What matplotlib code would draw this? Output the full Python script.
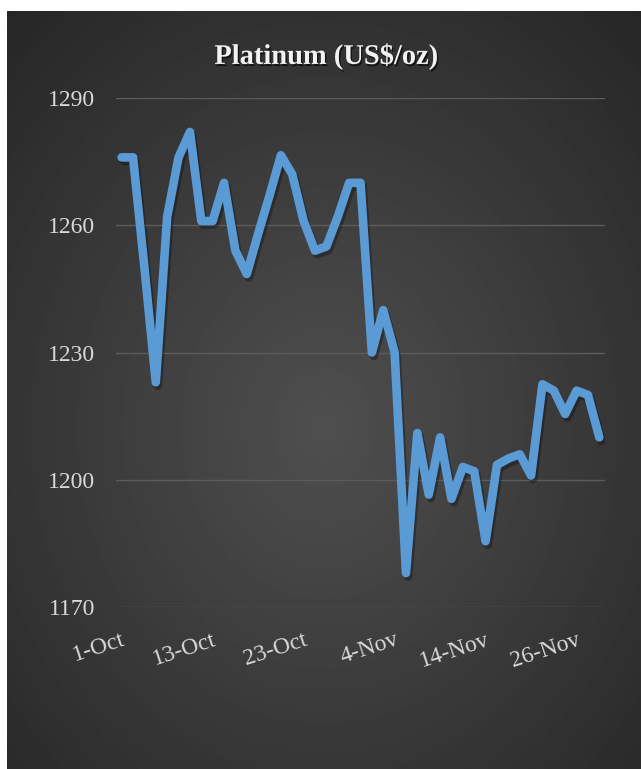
import numpy as np
import matplotlib
matplotlib.use('Agg')
import matplotlib.pyplot as plt
import matplotlib.patheffects as pe

# 数据：每个交易日的铂金价格
prices = [1276, 1276, 1250, 1223, 1262, 1276, 1282, 1261, 1261, 1270,
          1254, 1248.5, 1258, 1267, 1276.5, 1272, 1261, 1254, 1255, 1262,
          1270, 1270, 1230, 1240, 1230, 1178, 1211, 1196.5, 1210, 1195.5,
          1203, 1202, 1185.5, 1203.5, 1205, 1206, 1201, 1222.5, 1221, 1215.5,
          1221, 1220, 1210]
tick_labels = ['1-Oct', '13-Oct', '23-Oct', '4-Nov', '14-Nov', '26-Nov']
label_step = 8
y_ticks = [1170, 1200, 1230, 1260, 1290]
title = 'Platinum (US$/oz)'

W, H = 641, 769
plt.rcParams['font.family'] = ['Liberation Serif', 'DejaVu Serif']

fig = plt.figure(figsize=(W / 100, H / 100), dpi=100)
fig.patch.set_facecolor('white')

# 深色径向渐变背景
bg = fig.add_axes([7 / W, 0, 1 - 7 / W, 1 - 11 / H])
yy, xx = np.mgrid[0:1:400j, 0:1:400j]
r = np.sqrt(((xx - 0.5) / 0.75) ** 2 + ((yy - 0.55) / 0.75) ** 2)
shade = 0.31 - 0.16 * np.clip(r, 0, 1)
bg.imshow(shade, cmap='gray', vmin=0, vmax=1, aspect='auto',
          extent=[0, 1, 0, 1], interpolation='bilinear')
bg.axis('off')

# 绘图区
ax = fig.add_axes([116 / W, 1 - 607 / H, (605 - 116) / W, (607 - 98) / H])
ax.set_facecolor('none')
x = np.arange(len(prices))
ax.plot(x, prices, color='#5B9BD5', linewidth=6.2, solid_capstyle='round',
        solid_joinstyle='round', zorder=3,
        path_effects=[pe.SimpleLineShadow(offset=(1.5, -2.5), shadow_color='black', alpha=0.3),
                      pe.Normal()])

ax.set_xlim(-0.5, len(prices) - 0.5)
ax.set_ylim(1170, 1290)
ax.set_yticks(y_ticks)
ax.set_yticklabels([str(v) for v in y_ticks], color='#d9d9d9', fontsize=17)
ax.set_xticks(x[::label_step])
ax.set_xticklabels(tick_labels, color='#d9d9d9', fontsize=17, rotation=18,
                   ha='right', va='top', rotation_mode='anchor')
ax.tick_params(axis='both', length=0)
ax.tick_params(axis='y', pad=15)
ax.tick_params(axis='x', pad=16)
ax.grid(axis='y', color='#5c5c5c', linewidth=1)
ax.set_axisbelow(True)
for s in ax.spines.values():
    s.set_visible(False)

fig.text(0.509, 1 - 57 / H, title, color='#f2f2f2', fontsize=20.5, fontweight='bold',
         ha='center', va='center',
         path_effects=[pe.SimplePatchShadow(offset=(1, -1.5), shadow_rgbFace='black', alpha=0.6),
                       pe.Normal()])

fig.savefig('out.png', dpi=100)
